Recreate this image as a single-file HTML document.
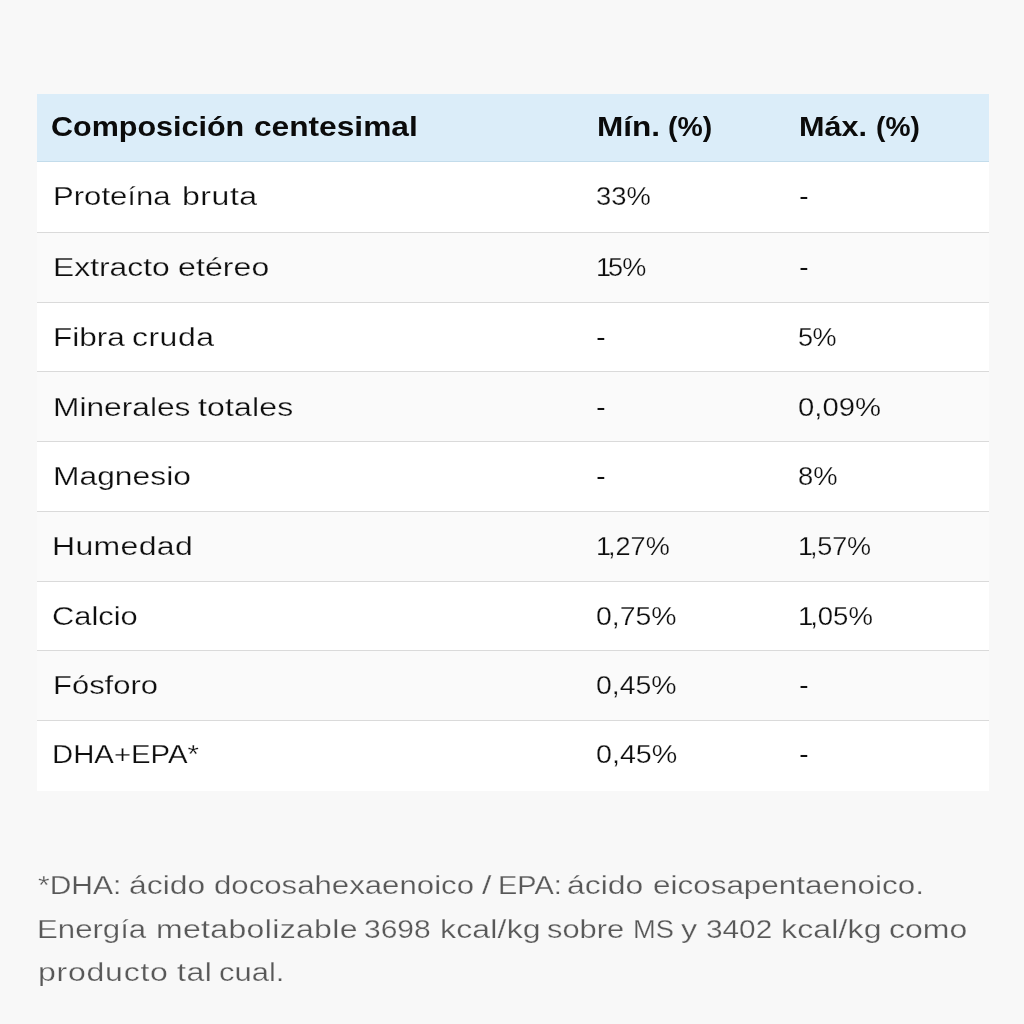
<!DOCTYPE html>
<html lang="es">
<head>
<meta charset="utf-8">
<title>Composición centesimal</title>
<style>
html,body{margin:0;padding:0;}
body{width:1024px;height:1024px;background:#f8f8f8;font-family:"Liberation Sans",sans-serif;font-size:26px;color:#0e0e0e;overflow:hidden;position:relative;}
.tbl{position:absolute;left:37px;top:94px;width:952px;height:697px;background:#fff;}
.row{position:absolute;left:0;width:952px;box-sizing:border-box;--bg:#fff;background:var(--bg);box-shadow:inset 0 1px 0 #dadada;}
.row.alt{--bg:#fafafa;}
.row.head{--bg:#dbedf9;--sw:0;font-size:27px;box-shadow:none;border-top:none;border-bottom:1px solid #c3dceb;font-weight:bold;color:#0b0b0b;}
.row.first{box-shadow:none;}
.cell{position:absolute;left:0;top:0;}
.w{-webkit-text-stroke:var(--sw,0.25px) var(--bg);position:absolute;white-space:nowrap;line-height:30px;transform-origin:0 50%;display:block;}
.w i{font-style:normal;letter-spacing:-3px;}
.note{--bg:#f8f8f8;position:absolute;left:0;top:0;margin:0;color:#585858;}
.note .ln{position:absolute;left:0;top:0;display:block;}
</style>
</head>
<body>
<div class="tbl">
 <div class="row head" style="top:0;height:68px"><div class="cell"><span class="w" style="left:14.4px;top:17.5px;transform:scaleX(1.130)">Composición</span> <span class="w" style="left:216.6px;top:17.5px;transform:scaleX(1.173)">centesimal</span></div><div class="cell"><span class="w" style="left:559.7px;top:17.5px;transform:scaleX(1.168)">Mín.</span> <span class="w" style="left:631.1px;top:17.5px;transform:scaleX(1.052)">(%)</span></div><div class="cell"><span class="w" style="left:761.8px;top:17.5px;transform:scaleX(1.132)">Máx.</span> <span class="w" style="left:838.9px;top:17.5px;transform:scaleX(1.043)">(%)</span></div></div>
 <div class="row first" style="top:68px;height:70px"><div class="cell"><span class="w" style="left:16.1px;top:19.1px;transform:scaleX(1.196)">Proteína</span> <span class="w" style="left:145.2px;top:19.1px;transform:scaleX(1.230);letter-spacing:0.45px">bruta</span></div><div class="cell"><span class="w" style="left:559.2px;top:19.1px;transform:scaleX(1.052)">33%</span></div><div class="cell"><span class="w" style="left:762.0px;top:19.1px;transform:scaleX(1.117)">-</span></div></div>
 <div class="row alt" style="top:138px;height:70px"><div class="cell"><span class="w" style="left:16.1px;top:19.7px;transform:scaleX(1.224)">Extracto</span> <span class="w" style="left:141.4px;top:19.7px;transform:scaleX(1.230);letter-spacing:0.09px">etéreo</span></div><div class="cell"><span class="w" style="left:558.9px;top:19.7px;transform:scaleX(1.040);letter-spacing:-0.74px"><i>1</i>5%</span></div><div class="cell"><span class="w" style="left:762.0px;top:19.7px;transform:scaleX(1.117)">-</span></div></div>
 <div class="row" style="top:208px;height:69px"><div class="cell"><span class="w" style="left:15.5px;top:19.6px;transform:scaleX(1.212)">Fibra</span> <span class="w" style="left:95.2px;top:19.6px;transform:scaleX(1.230);letter-spacing:0.40px">cruda</span></div><div class="cell"><span class="w" style="left:559.1px;top:19.6px;transform:scaleX(1.117)">-</span></div><div class="cell"><span class="w" style="left:761.1px;top:19.6px;transform:scaleX(1.040);letter-spacing:-0.62px">5%</span></div></div>
 <div class="row alt" style="top:277px;height:70px"><div class="cell"><span class="w" style="left:15.5px;top:20.6px;transform:scaleX(1.219)">Minerales</span> <span class="w" style="left:161.2px;top:20.6px;transform:scaleX(1.230);letter-spacing:0.13px">totales</span></div><div class="cell"><span class="w" style="left:559.1px;top:20.6px;transform:scaleX(1.117)">-</span></div><div class="cell"><span class="w" style="left:761.0px;top:20.6px;transform:scaleX(1.126)">0,09%</span></div></div>
 <div class="row" style="top:347px;height:70px"><div class="cell"><span class="w" style="left:15.5px;top:20.0px;transform:scaleX(1.223)">Magnesio</span></div><div class="cell"><span class="w" style="left:559.1px;top:20.0px;transform:scaleX(1.117)">-</span></div><div class="cell"><span class="w" style="left:761.0px;top:20.0px;transform:scaleX(1.053)">8%</span></div></div>
 <div class="row alt" style="top:417px;height:70px"><div class="cell"><span class="w" style="left:15.0px;top:19.9px;transform:scaleX(1.230);letter-spacing:0.28px">Humedad</span></div><div class="cell"><span class="w" style="left:558.9px;top:19.9px;transform:scaleX(1.043)"><i>1</i>,27%</span></div><div class="cell"><span class="w" style="left:761.0px;top:19.9px;transform:scaleX(1.040);letter-spacing:-0.13px"><i>1</i>,57%</span></div></div>
 <div class="row" style="top:487px;height:69px"><div class="cell"><span class="w" style="left:14.5px;top:19.6px;transform:scaleX(1.187)">Calcio</span></div><div class="cell"><span class="w" style="left:559.2px;top:19.6px;transform:scaleX(1.092)">0,75%</span></div><div class="cell"><span class="w" style="left:761.0px;top:19.6px;transform:scaleX(1.059)"><i>1</i>,05%</span></div></div>
 <div class="row alt" style="top:556px;height:70px"><div class="cell"><span class="w" style="left:15.5px;top:20.3px;transform:scaleX(1.191)">Fósforo</span></div><div class="cell"><span class="w" style="left:559.2px;top:20.3px;transform:scaleX(1.094)">0,45%</span></div><div class="cell"><span class="w" style="left:762.0px;top:20.3px;transform:scaleX(1.117)">-</span></div></div>
 <div class="row" style="top:626px;height:71px"><div class="cell"><span class="w" style="left:15.2px;top:19.0px;transform:scaleX(1.128)">DHA+EPA*</span></div><div class="cell"><span class="w" style="left:559.2px;top:19.0px;transform:scaleX(1.103)">0,45%</span></div><div class="cell"><span class="w" style="left:762.0px;top:19.0px;transform:scaleX(1.117)">-</span></div></div>
</div>
<p class="note"><span class="ln"><span class="w" style="left:37.6px;top:870.4px;transform:scaleX(1.152)">*DHA:</span> <span class="w" style="left:129.2px;top:870.4px;transform:scaleX(1.225)">ácido</span> <span class="w" style="left:214.3px;top:870.4px;transform:scaleX(1.199)">docosahexaenoico</span> <span class="w" style="left:481.5px;top:870.4px;transform:scaleX(1.314)">/</span> <span class="w" style="left:498.3px;top:870.4px;transform:scaleX(1.111)">EPA:</span> <span class="w" style="left:567.0px;top:870.4px;transform:scaleX(1.228)">ácido</span> <span class="w" style="left:653.4px;top:870.4px;transform:scaleX(1.209)">eicosapentaenoico.</span></span><span class="ln"><span class="w" style="left:37.4px;top:913.6px;transform:scaleX(1.199)">Energía</span> <span class="w" style="left:155.5px;top:913.6px;transform:scaleX(1.230);letter-spacing:0.28px">metabolizable</span> <span class="w" style="left:364.3px;top:913.6px;transform:scaleX(1.152)">3698</span> <span class="w" style="left:439.6px;top:913.6px;transform:scaleX(1.230);letter-spacing:0.15px">kcal/kg</span> <span class="w" style="left:546.5px;top:913.6px;transform:scaleX(1.186)">sobre</span> <span class="w" style="left:633.2px;top:913.6px;transform:scaleX(1.047)">MS</span> <span class="w" style="left:680.5px;top:913.6px;transform:scaleX(1.245)">y</span> <span class="w" style="left:705.8px;top:913.6px;transform:scaleX(1.145)">3402</span> <span class="w" style="left:781.0px;top:913.6px;transform:scaleX(1.230);letter-spacing:0.13px">kcal/kg</span> <span class="w" style="left:888.9px;top:913.6px;transform:scaleX(1.230)">como</span></span><span class="ln"><span class="w" style="left:37.8px;top:956.8px;transform:scaleX(1.230);letter-spacing:0.63px">producto</span> <span class="w" style="left:176.6px;top:956.8px;transform:scaleX(1.230);letter-spacing:0.43px">tal</span> <span class="w" style="left:219.1px;top:956.8px;transform:scaleX(1.190)">cual.</span></span></p>
</body>
</html>
